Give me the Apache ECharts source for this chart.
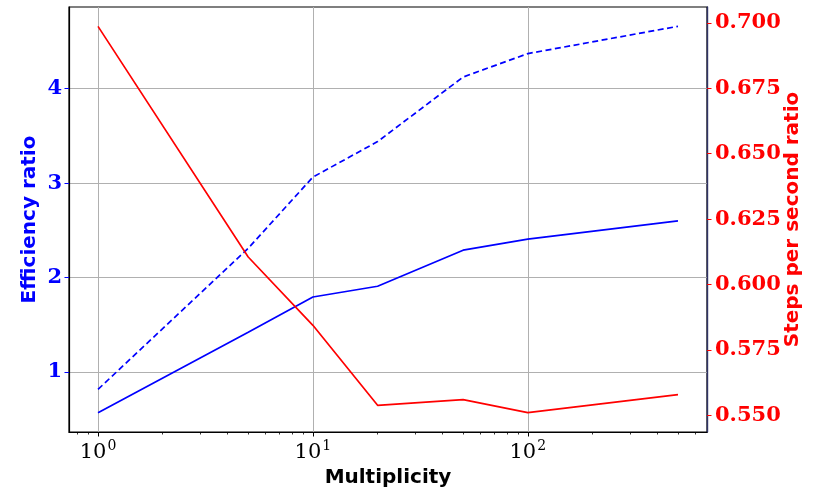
<!DOCTYPE html>
<html>
<head>
<meta charset="utf-8">
<script src="https://cdn.jsdelivr.net/npm/echarts@6/dist/echarts.min.js"></script>
<style>
  html, body { margin: 0; padding: 0; background: #fff; }
  #chart { width: 816px; height: 490px; }
</style>
</head>
<body>
<div id="chart"></div>
<script>
// Multiplicity values on the log-scaled x axis
const multiplicity = [1, 5, 10, 20, 50, 100, 500];
// Left axis: efficiency ratio (solid and dashed variants)
const efficiencySolid = [0.569, 1.42, 1.794, 1.908, 2.29, 2.407, 2.601];
const efficiencyDashed = [0.816, 2.31, 3.064, 3.44, 4.124, 4.372, 4.661];
// Right axis: steps per second ratio
const stepsRatio = [0.6987, 0.6105, 0.5844, 0.5538, 0.556, 0.551, 0.5579];

// Tick positions
const xMajorTicks = [1, 10, 100];
const xMinorTicks = [0.8, 0.9, 2, 3, 4, 5, 6, 7, 8, 9, 20, 30, 40, 50, 60, 70, 80, 90, 200, 300, 400, 500, 600];
const leftTicks = [1, 2, 3, 4];
const rightTicks = [0.55, 0.575, 0.6, 0.625, 0.65, 0.675, 0.7];

const pairs = (ys) => multiplicity.map((x, i) => [x, ys[i]]);

const serif = 'DejaVu Serif';
const sans = 'DejaVu Sans';

const chart = echarts.init(document.getElementById('chart'), null, { renderer: 'canvas' });
chart.setOption({
  animation: false,
  backgroundColor: '#fff',
  grid: {
    left: 69, right: 109, top: 7, bottom: 58,
    outerBoundsMode: 'none', containLabel: false,
    show: true, borderColor: '#000', borderWidth: 1.2, backgroundColor: 'transparent'
  },
  xAxis: [
    {
      type: 'log', logBase: 10, min: 0.7328, max: 682.3, position: 'bottom',
      name: 'Multiplicity', nameLocation: 'middle', nameGap: 34,
      nameTextStyle: { fontFamily: sans, fontWeight: 'bold', fontSize: 20, color: '#000' },
      axisLine: { show: true, lineStyle: { color: '#000', width: 1.2 } },
      axisTick: { show: true, customValues: xMajorTicks, length: 4.5, lineStyle: { color: '#000', width: 1 } },
      axisLabel: {
        customValues: xMajorTicks, margin: 7,
        formatter: (v) => '{b|10}{s|' + Math.round(Math.log10(v)) + '}',
        rich: {
          b: { fontFamily: serif, fontSize: 21, color: '#000', verticalAlign: 'bottom', lineHeight: 24 },
          s: { fontFamily: serif, fontSize: 14, color: '#000', verticalAlign: 'top', lineHeight: 24, padding: [0, 0, 8, 1] }
        }
      },
      splitLine: { show: true, lineStyle: { color: '#b0b0b0', width: 1 } }
    },
    {
      type: 'log', logBase: 10, min: 0.7328, max: 682.3, position: 'bottom',
      axisLine: { show: false },
      axisTick: { show: true, customValues: xMinorTicks, length: 2.5, lineStyle: { color: '#000', width: 0.8 } },
      axisLabel: { show: false },
      splitLine: { show: false }
    }
  ],
  yAxis: [
    {
      type: 'value', min: 0.3644, max: 4.8656, position: 'left',
      name: 'Efficiency ratio', nameLocation: 'middle', nameGap: 29, nameRotate: 90,
      nameMoveOverlap: false,
      nameTextStyle: { fontFamily: sans, fontWeight: 'bold', fontSize: 20, color: '#0000ff' },
      axisLine: { show: true, lineStyle: { color: '#000', width: 1.2 } },
      axisTick: { show: true, customValues: leftTicks, length: 4.5, lineStyle: { color: '#0000ff', width: 1 } },
      axisLabel: {
        customValues: leftTicks, margin: 7,
        fontFamily: serif, fontWeight: 'bold', fontSize: 21, color: '#0000ff'
      },
      splitLine: { show: true, lineStyle: { color: '#b0b0b0', width: 1 } }
    },
    {
      type: 'value', min: 0.5436, max: 0.7061, position: 'right',
      name: 'Steps per second ratio', nameLocation: 'middle', nameGap: 76, nameRotate: 90,
      nameMoveOverlap: false,
      nameTextStyle: { fontFamily: sans, fontWeight: 'bold', fontSize: 20, color: '#ff0000' },
      axisLine: { show: true, lineStyle: { color: '#303366', width: 1.4 } },
      axisTick: { show: true, customValues: rightTicks, length: 4.5, lineStyle: { color: '#ff0000', width: 1 } },
      axisLabel: {
        customValues: rightTicks, margin: 8,
        formatter: (v) => v.toFixed(3),
        fontFamily: serif, fontWeight: 'bold', fontSize: 21, color: '#ff0000'
      },
      splitLine: { show: false }
    }
  ],
  series: [
    {
      type: 'line', name: 'Efficiency ratio', xAxisIndex: 0, yAxisIndex: 0,
      data: pairs(efficiencySolid), showSymbol: false, symbol: 'none',
      lineStyle: { color: '#0000ff', width: 1.7 }
    },
    {
      type: 'line', name: 'Efficiency ratio (dashed)', xAxisIndex: 0, yAxisIndex: 0,
      data: pairs(efficiencyDashed), showSymbol: false, symbol: 'none',
      lineStyle: { color: '#0000ff', width: 1.7, type: [6, 3.5] }
    },
    {
      type: 'line', name: 'Steps per second ratio', xAxisIndex: 0, yAxisIndex: 1,
      data: pairs(stepsRatio), showSymbol: false, symbol: 'none',
      lineStyle: { color: '#ff0000', width: 1.7 }
    }
  ]
});
</script>
</body>
</html>
